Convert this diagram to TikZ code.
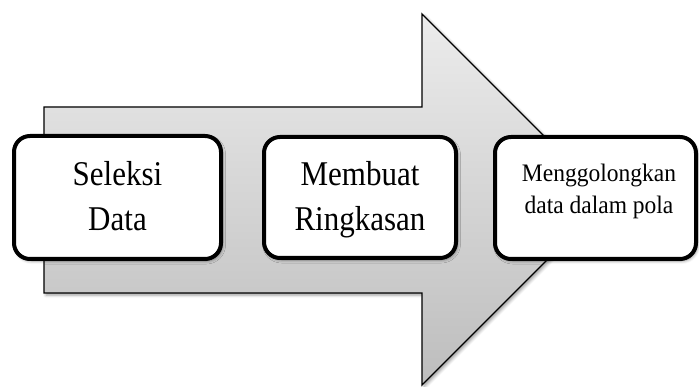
\documentclass[tikz,border=0pt]{standalone}
\usepackage{fontspec}
\usepackage{graphicx}
\setmainfont{Liberation Serif}
\usetikzlibrary{shadows.blur}
\definecolor{arrtop}{HTML}{ECECEC}
\definecolor{arrbot}{HTML}{BDBDBD}
\newcommand{\stretchlines}[2][1.12]{\scalebox{1}[#1]{\begin{tabular}[t]{@{}c@{}}#2\end{tabular}}}
\begin{document}
\begin{tikzpicture}[x=1pt,y=-1pt,
  stagebox/.style={draw=black, line width=4pt, fill=white, rounded corners=16pt, inner sep=0pt,
    blur shadow={shadow xshift=1.5pt, shadow yshift=-2pt, shadow blur radius=3pt, shadow opacity=45}},
  bigtext/.style={font=\fontsize{31}{40}\selectfont, inner sep=0pt, anchor=base},
  smalltext/.style={font=\fontsize{23.5}{29.5}\selectfont, inner sep=0pt, anchor=base},
  bigarrow/.style={draw=black, line width=1.3pt, top color=arrtop, bottom color=arrbot,
    blur shadow={shadow xshift=2pt, shadow yshift=-2pt, shadow blur radius=3pt, shadow opacity=40}}]
\useasboundingbox (0,0) rectangle (699,387);
\path[bigarrow] (44,107) -- (422,107) -- (422,14) -- (607.5,199.5) -- (422,385) -- (422,293) -- (44,293) -- cycle;
\node[stagebox, minimum width=207pt, minimum height=123pt] (s1) at (117.5,197.5) {};
\node[stagebox, minimum width=192pt, minimum height=121pt] (s2) at (360,197.5) {};
\node[stagebox, minimum width=201pt, minimum height=122pt] (s3) at (595.5,198) {};
\node[bigtext] (t1) at (117.5,186) {\stretchlines{Seleksi\\Data}};
\node[bigtext] (t2) at (360,186) {\stretchlines{Membuat\\Ringkasan}};
\node[smalltext] (t3) at (599,181.7) {\stretchlines[1.07]{Menggolongkan\\data dalam pola}};
\end{tikzpicture}
\end{document}
